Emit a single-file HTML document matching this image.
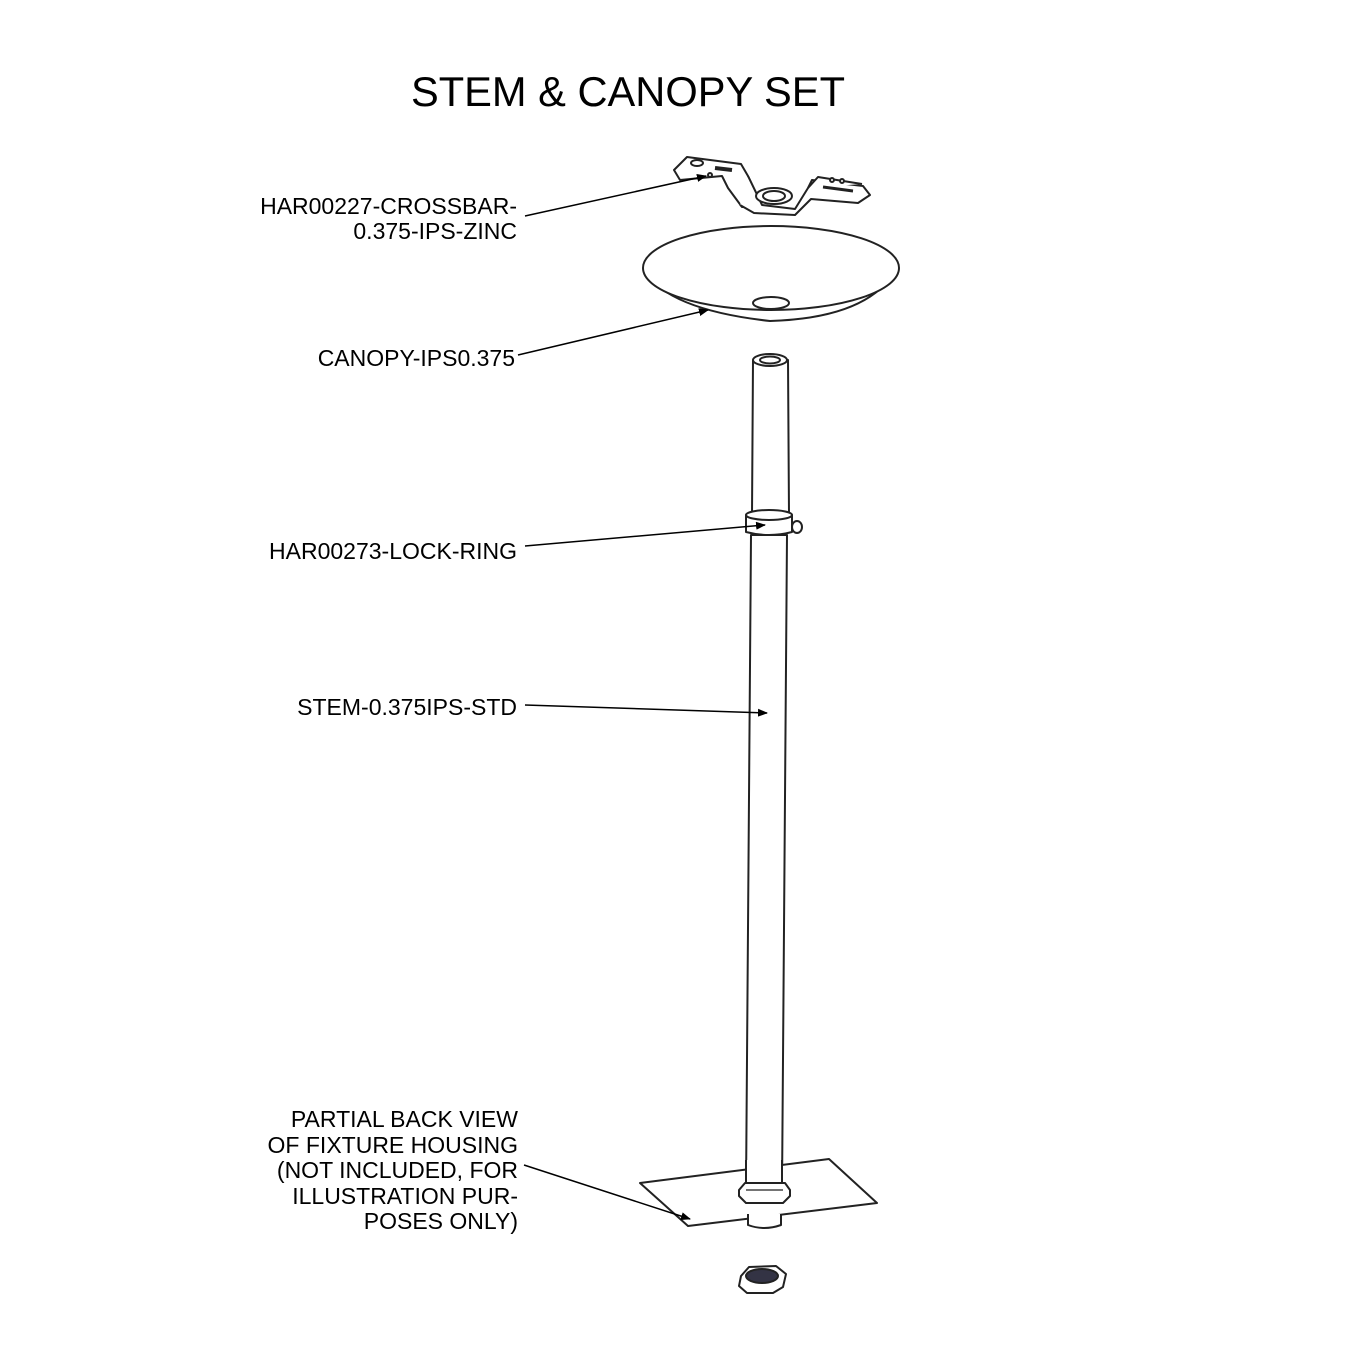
<!DOCTYPE html>
<html><head><style>
body{margin:0;background:#fff}
svg{display:block}
text{font-family:"Liberation Sans",Arial,sans-serif;fill:#000}
</style></head><body>
<svg width="1354" height="1354" viewBox="0 0 1354 1354" xmlns="http://www.w3.org/2000/svg">
<defs><marker id="a" markerWidth="10" markerHeight="8" refX="9" refY="4" orient="auto" markerUnits="userSpaceOnUse"><path d="M0,0 L10,4 L0,8 z" fill="#000"/></marker></defs>
<text x="628" y="106" font-size="42" text-anchor="middle" textLength="434" lengthAdjust="spacingAndGlyphs">STEM &amp; CANOPY SET</text>
<g font-size="23" text-anchor="end">
<text x="517" y="214">HAR00227-CROSSBAR-</text>
<text x="517" y="239">0.375-IPS-ZINC</text>
<text x="515" y="366">CANOPY-IPS0.375</text>
<text x="517" y="559">HAR00273-LOCK-RING</text>
<text x="517" y="715">STEM-0.375IPS-STD</text>
<text x="518" y="1127">PARTIAL BACK VIEW</text>
<text x="518" y="1153">OF FIXTURE HOUSING</text>
<text x="518" y="1178">(NOT INCLUDED, FOR</text>
<text x="518" y="1204">ILLUSTRATION PUR-</text>
<text x="518" y="1229">POSES ONLY)</text>
</g>
<g stroke="#222" stroke-width="2" fill="#fff" stroke-linejoin="round">
<path d="M674,170 L687,157 L741,164 L748,176 L762,205 L742,207 L728,188 L722,176 L680,180 Z"/>
<path d="M748,176 L762,205 L795,209 L808,188 L812,180 L863,186 L870,195 L858,203 L811,199 L795,215 L754,213 L740,205"/>
<path d="M808,188 L818,177 L862,184"/>
<ellipse cx="774" cy="196" rx="18" ry="8"/>
<ellipse cx="774" cy="196" rx="11" ry="5"/>
<ellipse cx="697" cy="163" rx="6" ry="3"/>
<path d="M715,168 L732,170" stroke-width="4"/>
<path d="M823,187 L853,191" stroke-width="3"/>
<circle cx="710" cy="175" r="2"/><circle cx="832" cy="180" r="2"/><circle cx="842" cy="181" r="2"/>
<path d="M645,272 Q670,310 770,321 Q870,318 897,268" />
<ellipse cx="771" cy="268" rx="128" ry="42"/>
<ellipse cx="771" cy="303" rx="18" ry="6"/>
<path d="M753,360 L752,515 L789,515 L788,360 Z"/>
<ellipse cx="770" cy="360" rx="17" ry="6"/>
<ellipse cx="770" cy="360" rx="10" ry="3.5"/>
<path d="M751,535 L746,1190 L782,1190 L787,535 Z"/>
<path d="M746,515 L746,532 Q769,538 792,532 L792,515 Z"/>
<ellipse cx="769" cy="515" rx="23" ry="5"/>
<ellipse cx="797" cy="527" rx="5" ry="6"/>
<path d="M640,1183 L829,1159 L877,1203 L688,1226 Z"/>
<path d="M748,1214 L748,1225 Q764,1231 781,1225 L781,1214"/>
<path d="M746,1160 L746,1185 L782,1185 L782,1160" />
<path d="M739,1190 L745,1183 L785,1183 L790,1190 L790,1196 L783,1203 L746,1203 L739,1196 Z"/>
<path d="M746,1190 L783,1190" stroke-width="1.2"/>
<path d="M741,1276 L749,1267 L776,1266 L786,1274 L783,1287 L773,1293 L747,1293 L739,1286 Z"/>
<ellipse cx="762" cy="1276" rx="16" ry="7" fill="#334"/>
</g>
<g stroke="#000" stroke-width="1.5" fill="none">
<line x1="525" y1="216" x2="706" y2="176" marker-end="url(#a)"/>
<line x1="518" y1="355" x2="708" y2="310" marker-end="url(#a)"/>
<line x1="525" y1="546" x2="765" y2="525" marker-end="url(#a)"/>
<line x1="525" y1="705" x2="767" y2="713" marker-end="url(#a)"/>
<line x1="524" y1="1165" x2="690" y2="1219" marker-end="url(#a)"/>
</g>
</svg>
</body></html>
